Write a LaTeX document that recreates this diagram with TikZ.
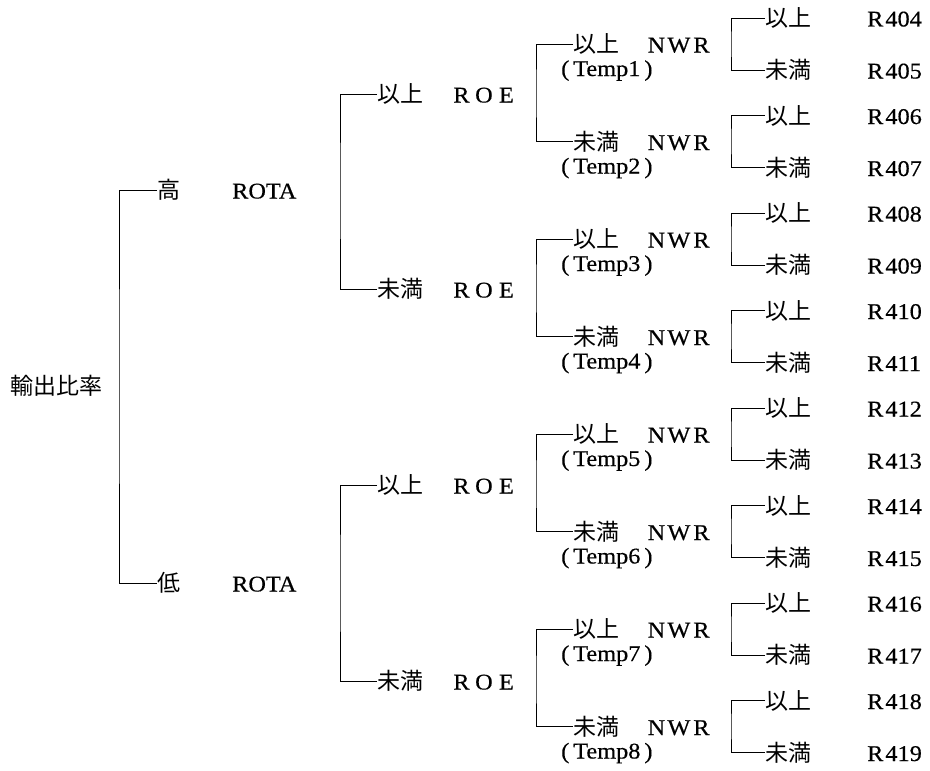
\documentclass[tikz,border=0pt]{standalone}
\usepackage{fontspec}
\setmainfont{Liberation Serif}[FakeStretch=1.08,FakeBold=0.4]
\newfontfamily\jpfont{Noto Sans CJK JP}
% one full-width cell for spaced capitals
\newcommand\fwcell[1]{\makebox[22.5pt]{#1}}
\begin{document}
\begin{tikzpicture}[x=1pt,y=-1pt,
  lbl/.style={inner sep=0pt,anchor=west,text height=17pt,text depth=0pt},
  kj/.style={lbl,font=\jpfont\fontsize{23}{23}\selectfont},
  lt/.style={lbl,font=\fontsize{22.5}{22.5}\selectfont},
  tmp/.style={inner sep=0pt,anchor=base west,font=\fontsize{22.5}{22.5}\selectfont},
  br/.style={line width=1pt}]
\useasboundingbox (0,0) rectangle (930,771);

% leaves: R404 ... R419
\foreach \k in {0,...,7}{
  \pgfmathsetmacro\ya{18+97.5*\k}
  \pgfmathsetmacro\yb{70+97.5*\k}
  \pgfmathtruncatemacro\ra{404+2*\k}
  \pgfmathtruncatemacro\rb{405+2*\k}
  \node[kj] (la-\k) at (765,\ya) {以上};
  \node[kj] (lb-\k) at (765,\yb) {未満};
  \node[lt] (ra-\k) at (867,\ya) {R\hspace{2pt}\ra};
  \node[lt] (rb-\k) at (867,\yb) {R\hspace{2pt}\rb};
  \coordinate (bk-\k) at (731,{(\ya+\yb)/2});
  \draw[br] (la-\k.west) -| (bk-\k) |- (lb-\k.west);
}

% NWR level with temporary groups
\foreach \k/\lab in {0/以上,1/未満,2/以上,3/未満,4/以上,5/未満,6/以上,7/未満}{
  \pgfmathsetmacro\y{44+97.5*\k}
  \pgfmathtruncatemacro\t{\k+1}
  \node[kj] (n-\k) at (573,\y) {\lab};
  \node[lt] (w-\k) at (645,\y) {\fwcell{N}\fwcell{W}\fwcell{R}};
  \node[tmp] (t-\k) at (561,\y+32) {(\hspace{4pt}Temp\t\hspace{4pt})};
}

% ROE level
\foreach \j/\lab/\y in {0/以上/94,1/未満/289,2/以上/485,3/未満/681}{
  \pgfmathtruncatemacro\a{2*\j}
  \pgfmathtruncatemacro\b{2*\j+1}
  \node[kj] (e-\j) at (377,\y) {\lab};
  \node[lt] (o-\j) at (450,\y) {\fwcell{R}\fwcell{O}\fwcell{E}};
  \coordinate (bn-\j) at (536,\y);
  \draw[br] (n-\a.west) -| (bn-\j) |- (n-\b.west);
}

% ROTA level
\foreach \i/\lab/\y in {0/高/190,1/低/583}{
  \pgfmathtruncatemacro\a{2*\i}
  \pgfmathtruncatemacro\b{2*\i+1}
  \node[kj] (h-\i) at (157,\y) {\lab};
  \node[lt] (r-\i) at (232,\y) {ROTA};
  \coordinate (be-\i) at (340,\y);
  \draw[br] (e-\a.west) -| (be-\i) |- (e-\b.west);
}

% root
\node[kj] (root) at (10,386) {輸出比率};
\coordinate (b0) at (119,386);
\draw[br] (h-0.west) -| (b0) |- (h-1.west);
\end{tikzpicture}
\end{document}
